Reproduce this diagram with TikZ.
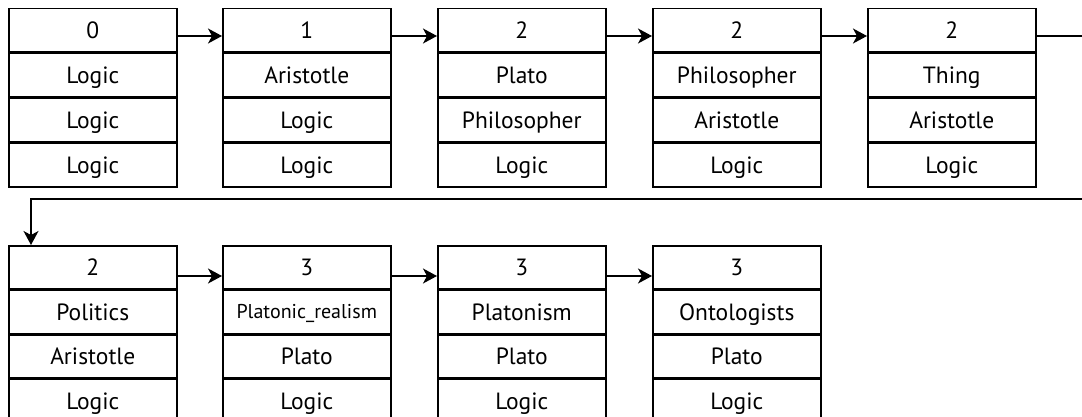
\documentclass[tikz,border=0pt]{standalone}
\usepackage{fontspec}
\setmainfont{PT Sans}
\usetikzlibrary{arrows.meta}
\begin{document}
\begin{tikzpicture}[x=1pt,y=-1pt,
  cell/.style={draw, line width=1.5pt, minimum width=168pt, minimum height=#1,
    inner sep=0pt, anchor=north west, text height=16.5pt, text depth=0pt,
    font=\fontsize{23.5}{26}\selectfont},
  cell/.default=43.5pt,
  small/.style={font=\fontsize{20}{23}\selectfont, text height=14pt},
  link/.style={line width=1.5pt, -{Stealth[length=14pt,width=15pt,inset=4pt]}}]
\useasboundingbox (0,0) rectangle (1082,417);
\clip (0,0) rectangle (1082,417);
% first row of records
\foreach \i/\x/\k/\a/\b/\c in {1/8/0/Logic/Logic/Logic,
    2/222/1/Aristotle/Logic/Logic,
    3/437/2/Plato/Philosopher/Logic,
    4/652/2/Philosopher/Aristotle/Logic,
    5/867/2/Thing/Aristotle/Logic}{
  \node[cell] (n\i) at (\x,8) {\k};
  \node[cell] (n\i a) at (n\i.south west) {\a};
  \node[cell] (n\i b) at (n\i a.south west) {\b};
  \node[cell] (n\i c) at (n\i b.south west) {\c};
}
% second row of records
\foreach \i/\x/\k/\s/\a/\b/\c in {6/8/2//Politics/Aristotle/Logic,
    7/222/3/small/Platonic\_realism/Plato/Logic,
    8/437/3//Platonism/Plato/Logic,
    9/652/3//Ontologists/Plato/Logic}{
  \node[cell=43pt] (n\i) at (\x,245) {\k};
  \node[cell=43pt,\s] (n\i a) at (n\i.south west) {\a};
  \node[cell=43pt] (n\i b) at (n\i a.south west) {\b};
  \node[cell=43pt] (n\i c) at (n\i b.south west) {\c};
}
% connector heights
\coordinate (r1) at (0,36);
\coordinate (r2) at (0,276);
\coordinate (turnA) at (1100,36);
\coordinate (turnB) at (31,199);
\foreach \p/\q in {1/2,2/3,3/4,4/5}
  \draw[link] (n\p.east |- r1) -- (n\q.west |- r1);
\foreach \p/\q in {6/7,7/8,8/9}
  \draw[link] (n\p.east |- r2) -- (n\q.west |- r2);
\draw[link] (n5.east |- r1) -- (turnA) |- (turnB) -- (n6.north -| turnB);
\end{tikzpicture}
\end{document}
